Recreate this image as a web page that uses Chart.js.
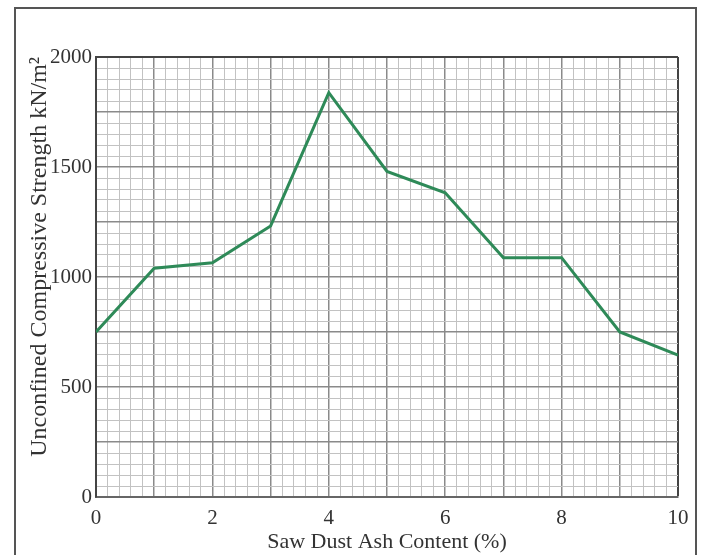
<!DOCTYPE html>
<html>
<head>
<meta charset="utf-8">
<script src="https://cdn.jsdelivr.net/npm/chart.js@4.4.0/dist/chart.umd.min.js"></script>
<style>
  body { margin: 0; background: #fff; }
  #frame {
    position: absolute; left: 14px; top: 7px; width: 679px; height: 600px;
    border: 2px solid #555; border-bottom: none;
  }
  #wrap { position: absolute; left: 0; top: 0; width: 701px; height: 555px; }
</style>
</head>
<body>
<div id="frame"></div>
<div id="wrap"><canvas id="myChart" width="701" height="555"></canvas></div>
<script>
// saw dust ash content (%)
const ashContent = [0, 1, 2, 3, 4, 5, 6, 7, 8, 9, 10];
// unconfined compressive strength kN/m2
const strength = [750, 1040, 1065, 1232, 1838, 1480, 1383, 1088, 1088, 750, 645];
const xTicks = [0, 2, 4, 6, 8, 10];
const yTicks = [0, 500, 1000, 1500, 2000];

const isInt = v => Math.abs(v - Math.round(v)) < 1e-6;
const family = '"Liberation Serif", "DejaVu Serif", serif';

const ctx = document.getElementById('myChart');

new Chart(ctx, {
    type: 'line',
    data: {
        datasets: [{
            data: ashContent.map((x, i) => ({ x: x, y: strength[i] })),
            borderColor: '#2e8a58',
            borderWidth: 3,
            pointRadius: 0,
            tension: 0
        }]
    },
    options: {
        responsive: false,
        animation: false,
        layout: { padding: { left: 0, top: 57, right: 23, bottom: 0 } },
        plugins: { legend: { display: false }, tooltip: { enabled: false } },
        scales: {
            x: {
                type: 'linear',
                min: 0, max: 10,
                afterFit: s => { s.height = 58; },
                ticks: {
                    stepSize: 0.2,
                    maxTicksLimit: 100,
                    autoSkip: false,
                    maxRotation: 0,
                    padding: 9,
                    color: '#333',
                    font: { family: family, size: 21 },
                    callback: v => (isInt(v) && xTicks.includes(Math.round(v))) ? String(Math.round(v)) : ''
                },
                grid: {
                    drawTicks: false,
                    color: c => {
                        const v = c.tick.value;
                        if (Math.abs(v - 10) < 1e-6) return '#444';
                        return isInt(v) ? '#8a8a8a' : '#c2c2c2';
                    },
                    lineWidth: c => (Math.abs(c.tick.value - 10) < 1e-6 ? 2 : (isInt(c.tick.value) ? 1.5 : 1))
                },
                border: { color: '#666', width: 2 },
                title: {
                    display: true,
                    text: 'Saw Dust Ash Content (%)',
                    color: '#333',
                    font: { family: family, size: 22 },
                    padding: { top: -6, bottom: 0 }
                }
            },
            y: {
                min: 0, max: 2000,
                afterFit: s => { s.width = 96; },
                ticks: {
                    stepSize: 50,
                    maxTicksLimit: 100,
                    autoSkip: false,
                    padding: 4,
                    color: '#333',
                    font: { family: family, size: 21 },
                    callback: v => yTicks.includes(v) ? String(v) : ''
                },
                grid: {
                    drawTicks: false,
                    color: c => {
                        const v = c.tick.value;
                        if (v === 2000) return '#444';
                        return v % 250 === 0 ? '#8a8a8a' : '#c2c2c2';
                    },
                    lineWidth: c => (c.tick.value === 2000 ? 2 : (c.tick.value % 250 === 0 ? 1.5 : 1))
                },
                border: { color: '#444', width: 2 },
                title: {
                    display: true,
                    align: 'end',
                    text: 'Unconfined Compressive Strength kN/m²',
                    color: '#333',
                    font: { family: family, size: 24 },
                    padding: { top: 25, bottom: 0 }
                }
            }
        }
    }
});
</script>
</body>
</html>
